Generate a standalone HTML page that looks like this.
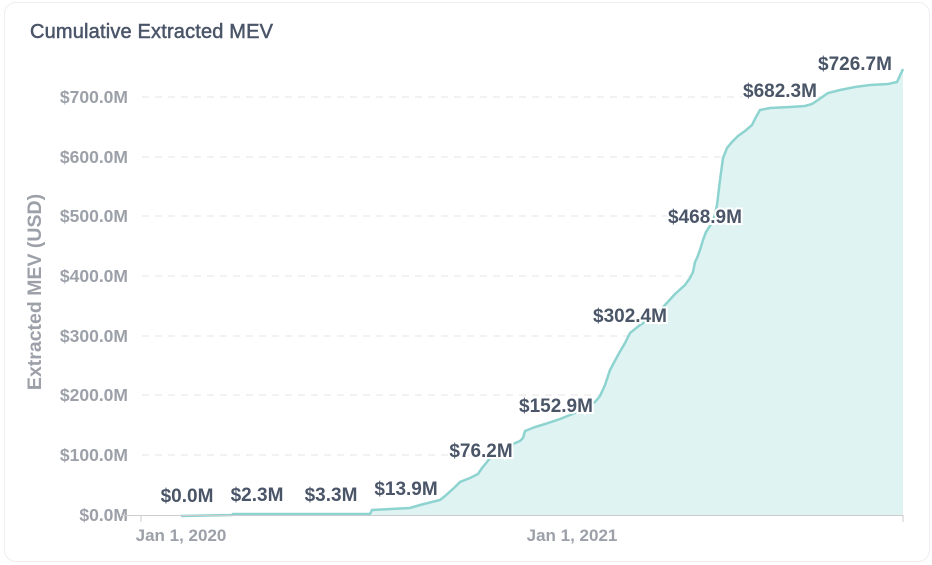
<!DOCTYPE html>
<html><head><style>
body{margin:0;background:#fff;font-family:"Liberation Sans",sans-serif}
.card{position:absolute;left:4px;top:2px;width:924px;height:558px;border:1px solid #eee;border-radius:12px}
</style></head><body>
<div class="card"></div>
<svg width="932" height="565" style="position:absolute;left:0;top:0" font-family="Liberation Sans, sans-serif">
<text x="30" y="38" font-size="20" fill="#4a5568" stroke="#4a5568" stroke-width="0.5" textLength="243">Cumulative Extracted MEV</text>
<g stroke="#e5e5e5" stroke-dasharray="7,6" stroke-width="1">
<line x1="142" x2="903" y1="97" y2="97"/><line x1="142" x2="903" y1="157" y2="157"/>
<line x1="142" x2="903" y1="216" y2="216"/><line x1="142" x2="903" y1="276" y2="276"/>
<line x1="142" x2="903" y1="336" y2="336"/><line x1="142" x2="903" y1="395" y2="395"/>
<line x1="142" x2="903" y1="455" y2="455"/>
</g>
<g font-size="17.5" font-weight="bold" fill="#9ca0a8" text-anchor="end">
<text x="128" y="103">$700.0M</text><text x="128" y="163">$600.0M</text>
<text x="128" y="222">$500.0M</text><text x="128" y="282">$400.0M</text>
<text x="128" y="342">$300.0M</text><text x="128" y="401">$200.0M</text>
<text x="128" y="461">$100.0M</text><text x="128" y="521">$0.0M</text>
</g>
<text transform="translate(41,292) rotate(-90)" text-anchor="middle" font-size="19.5" font-weight="bold" fill="#9ca0a8">Extracted MEV (USD)</text>
<path d="M181,516 L232,515 L233,514 L370,514 L372,510 L410,508 L420,505 L440,500 L445,496 L455,487 L460,482 L470,478 L478,474 L482,468 L487,462 L490,458 L510,452 L513,444 L520,441 L523,438 L525,431 L535,427 L545,424 L560,419 L575,413 L595,402 L600,396 L605,385 L610,370 L618,355 L625,343 L630,333 L640,325 L655,316 L665,305 L675,294 L685,285 L690,278 L693,272 L695,262 L697,258 L700,250 L703,240 L706,232 L710,226 L714,218 L717,205 L720,180 L723,158 L727,148 L732,142 L738,136 L745,131 L752,125 L756,117 L760,110 L770,108 L790,107 L805,106 L812,104 L818,100 L828,93 L840,90 L855,87 L870,85 L888,84 L897,82 L903,69 L903,515 L181,515 Z" fill="#dff3f3"/>
<path d="M181,516 L232,515 L233,514 L370,514 L372,510 L410,508 L420,505 L440,500 L445,496 L455,487 L460,482 L470,478 L478,474 L482,468 L487,462 L490,458 L510,452 L513,444 L520,441 L523,438 L525,431 L535,427 L545,424 L560,419 L575,413 L595,402 L600,396 L605,385 L610,370 L618,355 L625,343 L630,333 L640,325 L655,316 L665,305 L675,294 L685,285 L690,278 L693,272 L695,262 L697,258 L700,250 L703,240 L706,232 L710,226 L714,218 L717,205 L720,180 L723,158 L727,148 L732,142 L738,136 L745,131 L752,125 L756,117 L760,110 L770,108 L790,107 L805,106 L812,104 L818,100 L828,93 L840,90 L855,87 L870,85 L888,84 L897,82 L903,69" fill="none" stroke="#8dd3cf" stroke-width="2.5"/>
<line x1="122" x2="903" y1="515.5" y2="515.5" stroke="#ccc"/>
<line x1="141" x2="141" y1="515" y2="522" stroke="#ccc"/>
<line x1="903" x2="903" y1="515" y2="522" stroke="#ccc"/>
<g font-size="17" font-weight="bold" fill="#9ca0a8" text-anchor="middle">
<text x="181" y="541">Jan 1, 2020</text><text x="572" y="541">Jan 1, 2021</text>
</g>
<g font-size="19" font-weight="bold" fill="#4a5568" text-anchor="middle" stroke="#fff" stroke-width="4" paint-order="stroke">
<text x="187" y="502">$0.0M</text><text x="257" y="501">$2.3M</text>
<text x="331" y="501">$3.3M</text><text x="406" y="495">$13.9M</text>
<text x="481" y="457">$76.2M</text><text x="556" y="412">$152.9M</text>
<text x="630" y="322">$302.4M</text><text x="705" y="223">$468.9M</text>
<text x="780" y="97">$682.3M</text><text x="855" y="70">$726.7M</text>
</g>
</svg>
</body></html>
